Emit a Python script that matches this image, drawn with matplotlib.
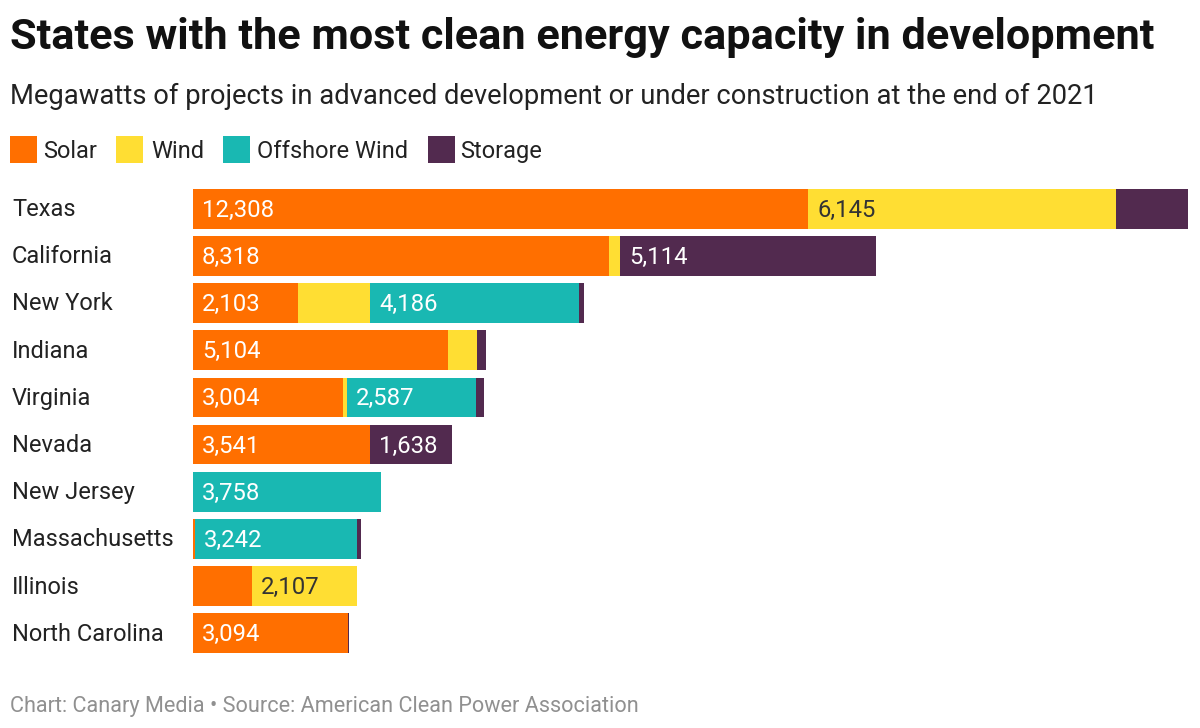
import matplotlib
matplotlib.use('Agg')
import matplotlib.pyplot as plt
from matplotlib.patches import Rectangle
import numpy as np

plt.rcParams['font.family'] = ['Roboto', 'DejaVu Sans']

states = ['Texas', 'California', 'New York', 'Indiana', 'Virginia', 'Nevada',
          'New Jersey', 'Massachusetts', 'Illinois', 'North Carolina']
solar = [12308, 8318, 2103, 5104, 3004, 3541, 0, 40, 1180, 3094]
wind = [6145, 220, 1440, 570, 70, 0, 0, 0, 2107, 0]
offshore = [0, 0, 4186, 0, 2587, 0, 3758, 3242, 0, 0]
storage = [1447, 5114, 100, 190, 160, 1638, 0, 75, 0, 30]

series_names = ['Solar', 'Wind', 'Offshore Wind', 'Storage']
colors = ['#ff6f00', '#ffde33', '#19b8b2', '#522a4f']
text_colors = ['white', '#333333', 'white', 'white']

W, H = 1200, 728
fig = plt.figure(figsize=(W / 100, H / 100), dpi=100)
ax = fig.add_axes([193 / W, 1 - 660 / H, (1188 - 193) / W, (660 - 182) / H])

y = np.arange(len(states))
left = np.zeros(len(states))
for vals, col, tcol in zip([solar, wind, offshore, storage], colors, text_colors):
    vals = np.array(vals)
    ax.barh(y, vals, left=left, height=0.84, color=col, linewidth=0)
    for i, v in enumerate(vals):
        # only segments wide enough get a label
        if v > 1600:
            ax.annotate(f'{v:,}', (left[i], i), xytext=(9, -8), textcoords='offset pixels',
                        va='baseline', ha='left', color=tcol, fontsize=17.2)
    left += vals

ax.set_xlim(0, max(left))
ax.set_ylim(len(states) - 0.5 + 0.07, -0.5 - 0.07)
ax.axis('off')

for i, s in enumerate(states):
    fig.text(12 / W, 1 - (216 + i * 47.2) / H, s, fontsize=17, color='#222222',
             va='baseline', ha='left')

fig.text(10 / W, 1 - 49 / H, 'States with the most clean energy capacity in development',
         fontsize=31.15, fontweight='bold', color='#111111', va='baseline', ha='left')
fig.text(10 / W, 1 - 104 / H,
         'Megawatts of projects in advanced development or under construction at the end of 2021',
         fontsize=19.75, color='#222222', va='baseline', ha='left')

# legend
leg_x = [10, 116.5, 222.5, 427.5]
leg_text_x = [43, 151, 257, 460]
for x, tx, name, col in zip(leg_x, leg_text_x, series_names, colors):
    fig.patches.append(Rectangle((x / W, 1 - 163 / H), 27 / W, 27 / H, transform=fig.transFigure,
                                 facecolor=col, linewidth=0))
    fig.text(tx / W, 1 - 158 / H, name, fontsize=17, color='#222222',
             va='baseline', ha='left')

fig.text(10 / W, 1 - 712 / H, 'Chart: Canary Media • Source: American Clean Power Association',
         fontsize=15.6, color='#909090', va='baseline', ha='left')

plt.savefig('out.png', dpi=100)
